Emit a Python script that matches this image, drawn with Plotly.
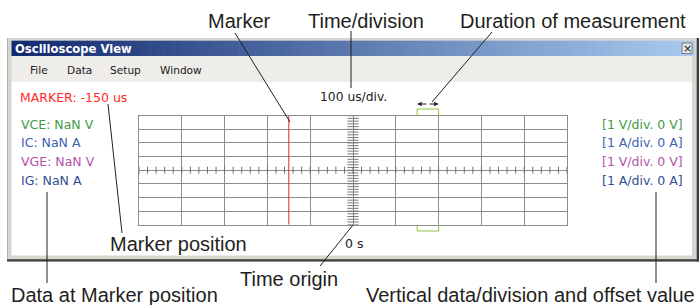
import plotly.graph_objects as go
import numpy as np

# ---------------- data ----------------
time_per_div_us = 100
n_div_x = 10
n_div_y = 8
minor_per_div = 5
marker_time_us = -150
meas_start_us = 150
meas_end_us = 200
origin_label = "0 s"
timebase_label = "100 us/div."
marker_label = "MARKER: -150 us"

channels = ["VCE", "IC", "VGE", "IG"]
channel_values = ["NaN", "NaN", "NaN", "NaN"]
channel_units = ["V", "A", "V", "A"]
channel_scale = [1, 1, 1, 1]
channel_offset = [0, 0, 0, 0]
channel_colors = ["#3f9a45", "#3c5fb0", "#b352aa", "#2e4e92"]

menu_items = ["File", "Data", "Setup", "Window"]
menu_x = [28, 65, 108, 158]

window_title = "Oscilloscope View"

# callout texts: (text, center x px, center y px)
callout_texts = ["Marker", "Time/division", "Duration of measurement",
                 "Marker position", "Time origin", "Data at Marker position",
                 "Vertical data/division and offset value"]
callout_cx = [239, 366, 573, 179, 289, 114, 530]
callout_cy = [21, 21, 21, 244, 278.5, 295, 294.5]
# leader lines (x0, y0, x1, y1) in px
leader_lines = [(235, 33, 290, 122), (351, 31, 351, 88), (492, 32, 432, 102),
                (108, 104, 122, 233), (47, 192, 47, 283), (353, 225, 320, 266),
                (656, 192, 656, 283)]

# ---------------- helpers ----------------
W, H = 699, 305


def px(x):
    return x / W


def py(y):
    return 1 - y / H


shapes = []
annotations = []


def rect(x0, y0, x1, y1, fill, line=None, layer="below"):
    shapes.append(dict(type="rect", xref="paper", yref="paper",
                       x0=px(x0), x1=px(x1), y0=py(y1), y1=py(y0),
                       fillcolor=fill,
                       line=dict(width=0 if line is None else 1, color=line or fill),
                       layer=layer))


def pline(x0, y0, x1, y1, color="#231f20", width=1):
    shapes.append(dict(type="line", xref="paper", yref="paper",
                       x0=px(x0), x1=px(x1), y0=py(y0), y1=py(y1),
                       line=dict(color=color, width=width), layer="above"))


def text(t, x, y, size, color, family="DejaVu Sans", xanchor="left", yanchor="middle"):
    annotations.append(dict(text=t, x=px(x), y=py(y), xref="paper", yref="paper",
                            showarrow=False, xanchor=xanchor, yanchor=yanchor,
                            font=dict(family=family, size=size, color=color)))


# ---------------- window chrome ----------------
rect(7, 38, 699, 261.5, "#d9d6d0")
rect(7, 259.3, 699, 261.5, "#3c3c3c")
rect(696.7, 38, 699, 261.5, "#3c3c3c")
rect(7, 38, 7.8, 259.3, "#a8a6a2")
# title bar gradient
n_strips = 90
tx0, tx1 = 11.5, 694.5
c0 = np.array([18, 42, 110])
c1 = np.array([168, 202, 240])
for i in range(n_strips):
    a = i / (n_strips - 1)
    c = (c0 + (c1 - c0) * a).astype(int)
    x0 = tx0 + (tx1 - tx0) * i / n_strips
    x1 = tx0 + (tx1 - tx0) * (i + 1) / n_strips + 0.6
    rect(x0, 40.7, min(x1, tx1), 56, "rgb(%d,%d,%d)" % tuple(c))
# menu bar
rect(11.5, 56, 692, 82, "#efedea")
# content area
rect(11.5, 82, 692, 255.5, "#ffffff")
# close button
rect(682, 43, 692, 53.5, "#e4e4e4", line="#7c7c7c")
text("×", 687, 48.3, 11, "#202020", xanchor="center")

text("<b>" + window_title + "</b>", 12.5, 48.5, 11.6, "#ffffff")
for m, mx in zip(menu_items, menu_x):
    text(m, mx, 70, 10.6, "#202020")

# ---------------- scope texts ----------------
text(marker_label, 18, 97, 12.5, "#ff2a1f")
text(timebase_label, 318, 96.8, 12.3, "#202020")
row_y = [124.2, 142.5, 161.5, 180.2]
for ch, v, u, s, o, c, yy in zip(channels, channel_values, channel_units,
                                  channel_scale, channel_offset, channel_colors, row_y):
    text("%s: %s %s" % (ch, v, u), 18.5, yy, 12.5, c)
    text("[%d %s/div. %d %s]" % (s, u, o, u), 684.5, yy, 12.5, c, xanchor="right")
text(origin_label, 343, 243, 12.5, "#202020")

# ---------------- scope grid traces ----------------
x_half = time_per_div_us * n_div_x / 2
y_half = n_div_y / 2
minor_x = np.arange(-x_half, x_half + 1e-9, time_per_div_us / minor_per_div)
minor_y = np.arange(-y_half, y_half + 1e-9, 1 / minor_per_div)

fig = go.Figure()
fig.add_trace(go.Scatter(x=minor_x, y=np.zeros_like(minor_x), mode="markers",
                         marker=dict(symbol="line-ns", size=5,
                                     line=dict(width=1, color="#707070")),
                         hoverinfo="skip", showlegend=False))
fig.add_trace(go.Scatter(x=np.zeros_like(minor_y), y=minor_y, mode="markers",
                         marker=dict(symbol="line-ew", size=8,
                                     line=dict(width=1, color="#7a7a7a")),
                         hoverinfo="skip", showlegend=False))
fig.add_trace(go.Scatter(x=[marker_time_us, marker_time_us], y=[-y_half, y_half],
                         mode="lines", line=dict(color="#e0281e", width=1),
                         hoverinfo="skip", showlegend=False))

# measurement bracket (x in data, y in paper)
gy_top, gy_bot = 115.7, 224.7
green = "#8cc63f"
for (ya, yb) in [(gy_top, 109), (gy_bot, 231)]:
    shapes.append(dict(type="path", xref="x", yref="paper",
                       path="M %g,%g L %g,%g L %g,%g L %g,%g" % (
                           meas_start_us, py(ya), meas_start_us, py(yb),
                           meas_end_us, py(yb), meas_end_us, py(ya)),
                       line=dict(color=green, width=1), layer="above"))
# double arrow
half_px = (meas_end_us - meas_start_us) / (2 * x_half) * (567 - 139) / 2
for tip, sgn in [(meas_start_us, 1), (meas_end_us, -1)]:
    annotations.append(dict(x=tip, y=py(104), xref="x", yref="paper",
                            ax=sgn * half_px, ay=0, axref="pixel", ayref="pixel",
                            text="", showarrow=True, arrowhead=2, arrowsize=0.9,
                            arrowwidth=1, arrowcolor="#231f20", standoff=0, startstandoff=0))

# ---------------- callouts ----------------
for (x0, y0, x1, y1) in leader_lines:
    pline(x0, y0, x1, y1)
for t, cx, cy in zip(callout_texts, callout_cx, callout_cy):
    text(t, cx, cy, 20, "#231f20", family="Liberation Sans", xanchor="center")

gx0, gx1 = 139, 567
grid_col = "#8c8c8c"
fig.update_layout(
    width=W, height=H, margin=dict(l=0, r=0, t=0, b=0),
    paper_bgcolor="#ffffff", plot_bgcolor="rgba(0,0,0,0)",
    showlegend=False,
    xaxis=dict(domain=[px(gx0), px(gx1)], range=[-x_half, x_half],
               dtick=time_per_div_us, tick0=0, showgrid=True, gridcolor=grid_col,
               gridwidth=1, zeroline=False, showticklabels=False, ticks="",
               showline=True, linecolor=grid_col, linewidth=1, mirror=True,
               fixedrange=True),
    yaxis=dict(domain=[py(gy_bot), py(gy_top)], range=[-y_half, y_half],
               dtick=1, tick0=0, showgrid=True, gridcolor=grid_col,
               gridwidth=1, zeroline=False, showticklabels=False, ticks="",
               showline=True, linecolor=grid_col, linewidth=1, mirror=True,
               fixedrange=True),
    shapes=shapes, annotations=annotations,
)
fig.write_html("out.html", config={"displayModeBar": False},
               post_script="document.body.style.margin='0';"
                           "document.body.style.overflow='hidden';")
